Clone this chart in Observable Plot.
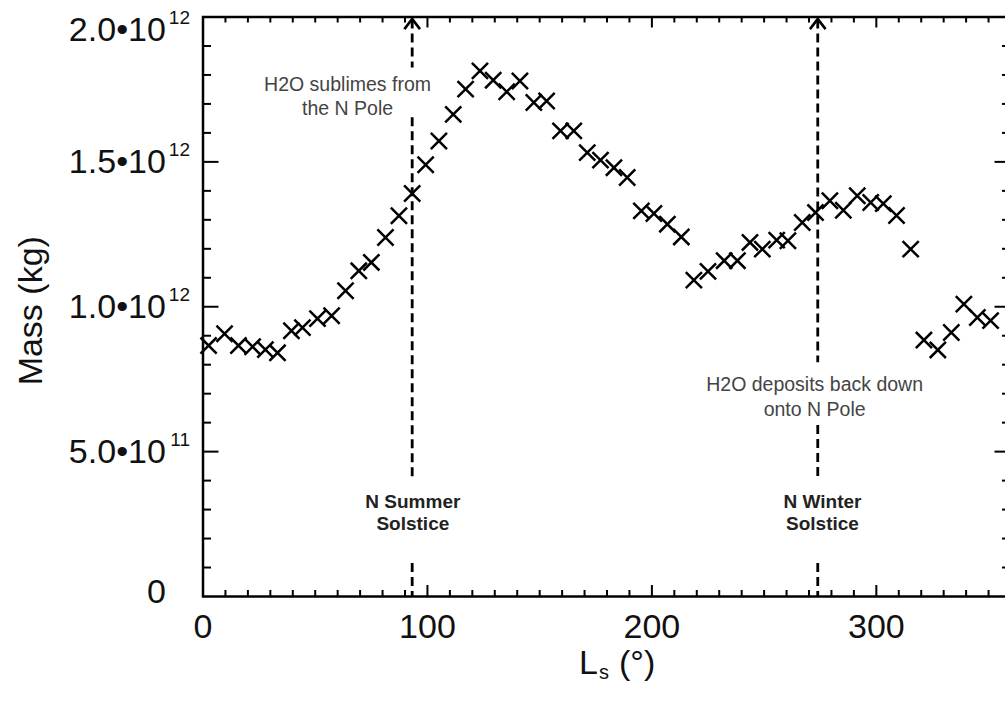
<!DOCTYPE html>
<html><head><meta charset="utf-8">
<script src="https://cdn.jsdelivr.net/npm/d3@7"></script>
<script src="https://cdn.jsdelivr.net/npm/@observablehq/plot@0.6"></script>
<style>
html,body{margin:0;padding:0;background:#fff;overflow:hidden;width:1005px;height:704px}
#chart svg{display:block;max-width:none !important;height:704px !important}
</style>
</head><body><div id="chart"></div>
<script>
// ---- data ----
const lsDeg = [2.5, 9.6, 15.8, 22.1, 27.8, 33.2, 39.4, 44.3, 51.0, 57.3,
  63.5, 69.4, 75.0, 81.3, 87.3, 93.2, 99.2, 105.1, 111.5, 117.0, 123.4, 129.3, 135.3, 141.2,
  147.4, 153.1, 159.3, 165.2, 171.2, 177.1, 183.1, 189.0, 195.3, 200.9, 206.9, 213.1, 218.7, 225.0,
  232.2, 238.1, 243.7, 249.2, 255.6, 260.6, 267.0, 272.9, 279.3, 285.3, 291.5, 297.5, 303.1, 309.0,
  315.3, 321.2, 327.4, 333.4, 339.0, 345.0, 350.9];
const massE12 = [0.866, 0.907, 0.866, 0.862, 0.852, 0.841, 0.917, 0.928, 0.959, 0.969,
  1.055, 1.124, 1.153, 1.239, 1.314, 1.391, 1.490, 1.572, 1.664, 1.751, 1.814, 1.782, 1.742, 1.779,
  1.705, 1.710, 1.607, 1.607, 1.532, 1.506, 1.480, 1.446, 1.331, 1.322, 1.285, 1.241, 1.092, 1.122,
  1.159, 1.159, 1.222, 1.199, 1.230, 1.228, 1.291, 1.325, 1.366, 1.333, 1.383, 1.360, 1.356, 1.315,
  1.199, 0.885, 0.851, 0.911, 1.009, 0.963, 0.952];

const xTickLabels = ["0", "100", "200", "300"];
const xTickValues = [0, 100, 200, 300];
const yTickValues = [0, 0.5e12, 1.0e12, 1.5e12, 2.0e12];
const yTickBase = ["0", "5.0\u202210", "1.0\u202210", "1.5\u202210", "2.0\u202210"];
const yTickExp = ["", "11", "12", "12", "12"];

const solsticeLs = [93.2, 273.9];
// dashed segments of the solstice lines (Ls, from, to) in 1e12 kg
const segLs = [93.2, 93.2, 93.2, 273.9, 273.9, 273.9];
const segFrom = [1.99, 1.652, 0.114, 1.99, 0.590, 0.114];
const segTo = [1.824, 0.407, 0.0, 0.807, 0.410, 0.0];

const noteText = ["H2O sublimes from\nthe N Pole", "H2O deposits back down\nonto N Pole"];
const noteLs = [64.4, 272.5];
const noteMass = [1.731e12, 0.693e12];
const solLabel = ["N Summer\nSolstice", "N Winter\nSolstice"];
const solLabelLs = [93.5, 276.0];
const solLabelMass = [0.293e12, 0.293e12];

// ---- layout ----
const W = 1012, H = 704, ML = 202.5, MR = 1.5, MT = 16.5, MB = 108;
const xPerPx = 360 / (W - ML - MR);
const yPerPx = 2e12 / (H - MT - MB);
const FONT = "Liberation Sans, Arial, Helvetica, sans-serif";

const points = lsDeg.map((v, i) => ({ls: v, mass: massE12[i] * 1e12}));
const segs = segLs.map((v, i) => ({ls: v, y1: segFrom[i] * 1e12, y2: segTo[i] * 1e12}));
const notes = noteText.map((t, i) => ({t, ls: noteLs[i], m: noteMass[i]}));
const sols = solLabel.map((t, i) => ({t, ls: solLabelLs[i], m: solLabelMass[i]}));
const yTicks = yTickValues.map((v, i) => ({v, base: yTickBase[i], exp: yTickExp[i]}));
// label nudges (px): top label sits below its tick, bottom one slightly above
const labelY = d => d.v === 2e12 ? d.v - 13 * yPerPx : d.v === 0 ? d.v + 4 * yPerPx : d.v;

const xMajor = [100, 200, 300];
const xMinor = d3.range(10, 360, 10).filter(v => v % 100 !== 0);
const yMajor = [0.5e12, 1.0e12, 1.5e12];
const yMinor = d3.range(1, 20).map(k => k * 1e11).filter((v, i) => (i + 1) % 5 !== 0);

const supSize = 19, baseSize = 34;
const labelRight = -13;
const expWidth = 2 * 0.556 * supSize + 3;

const chevron = {
  draw(ctx, size) {
    const r = Math.sqrt(size / Math.PI);
    ctx.moveTo(-r, 1.3 * r);
    ctx.lineTo(0, 0);
    ctx.lineTo(r, 1.3 * r);
  }
};

const chart = Plot.plot({
  width: W, height: H,
  marginLeft: ML, marginRight: MR, marginTop: MT, marginBottom: MB,
  style: {fontFamily: FONT, background: "#fff", overflow: "visible", maxWidth: "none"},
  x: {domain: [0, 360], axis: null},
  y: {domain: [0, 2e12], axis: null},
  marks: [
    // inward ticks: bottom & top
    Plot.ruleX(xMajor, {x: d => d, y1: 0, y2: 11 * yPerPx, stroke: "#000", strokeWidth: 2}),
    Plot.ruleX(xMinor, {x: d => d, y1: 0, y2: 6 * yPerPx, stroke: "#000", strokeWidth: 2}),
    Plot.ruleX(xMajor, {x: d => d, y1: 2e12, y2: 2e12 - 11 * yPerPx, stroke: "#000", strokeWidth: 2}),
    Plot.ruleX(xMinor, {x: d => d, y1: 2e12, y2: 2e12 - 6 * yPerPx, stroke: "#000", strokeWidth: 2}),
    // inward ticks: left & right
    Plot.ruleY(yMajor, {y: d => d, x1: 0, x2: 16 * xPerPx, stroke: "#000", strokeWidth: 2}),
    Plot.ruleY(yMinor, {y: d => d, x1: 0, x2: 8.5 * xPerPx, stroke: "#000", strokeWidth: 2}),
    Plot.ruleY(yMajor, {y: d => d, x1: 360, x2: 360 - 16 * xPerPx, stroke: "#000", strokeWidth: 2}),
    Plot.ruleY(yMinor, {y: d => d, x1: 360, x2: 360 - 8.5 * xPerPx, stroke: "#000", strokeWidth: 2}),
    // solstice dashed lines with open arrowheads at the top
    Plot.ruleX(segs, {x: "ls", y1: "y1", y2: "y2", stroke: "#000", strokeWidth: 2.8, strokeDasharray: "9,5"}),
    Plot.dot(solsticeLs, {x: d => d, y: 2e12, dy: 2, symbol: chevron, r: 7.8, fill: "none", stroke: "#000", strokeWidth: 2.6}),
    // data
    Plot.dot(points, {x: "ls", y: "mass", symbol: "times", r: 7.4, stroke: "#000", strokeWidth: 2.5}),
    // annotations
    Plot.text(notes, {x: "ls", y: "m", text: "t", fontSize: 19.5, fill: "#444", lineHeight: 1.25}),
    Plot.text(sols, {x: "ls", y: "m", text: "t", fontSize: 19, fontWeight: "bold", fill: "#222", lineHeight: 1.2}),
    // frame
    Plot.frame({stroke: "#000", strokeWidth: 2.5}),
    // x tick labels
    Plot.text(xTickValues, {x: d => d, y: 0, text: (d, i) => xTickLabels[i], dy: 31, lineAnchor: "middle", fontSize: baseSize, fill: "#111"}),
    // y tick labels (mantissa and superscript exponent)
    Plot.text(yTicks, {x: 0, y: labelY, text: "base", textAnchor: "end", lineAnchor: "middle",
      fontSize: baseSize, fill: "#111", dx: labelRight - expWidth}),
    Plot.text(yTicks, {x: 0, y: labelY, text: "exp", textAnchor: "end", lineAnchor: "middle", dx: labelRight, dy: -12, fontSize: supSize, fill: "#111"}),
    // axis titles
    Plot.text(["Mass (kg)"], {text: d => d, frameAnchor: "left", textAnchor: "middle", lineAnchor: "middle", rotate: -90, dx: -172, dy: 4, fontSize: baseSize, fill: "#111"}),
    Plot.text(["L"], {text: d => d, frameAnchor: "bottom", textAnchor: "start", lineAnchor: "middle", dx: -28, dy: 67, fontSize: baseSize, fill: "#111"}),
    Plot.text(["s"], {text: d => d, frameAnchor: "bottom", textAnchor: "start", lineAnchor: "middle", dx: -8, dy: 76, fontSize: 20, fill: "#111"}),
    Plot.text(["(\u00B0)"], {text: d => d, frameAnchor: "bottom", textAnchor: "start", lineAnchor: "middle", dx: 12, dy: 67, fontSize: baseSize, fill: "#111"})
  ]
});
document.getElementById("chart").appendChild(chart);
</script>
</body></html>
